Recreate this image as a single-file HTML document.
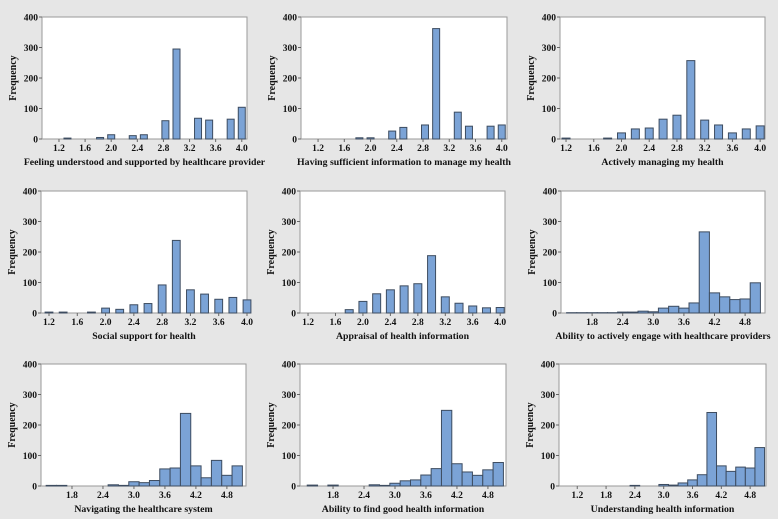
<!DOCTYPE html>
<html><head><meta charset="utf-8">
<style>
html,body{margin:0;padding:0;background:#e6e6e6;}
svg{display:block;}
text{font-family:"Liberation Serif",serif;font-weight:bold;fill:#111;}
</style></head>
<body>
<svg id="chart" width="778" height="519" viewBox="0 0 778 519" xmlns="http://www.w3.org/2000/svg">
<rect width="778" height="519" fill="#e6e6e6"/>
</svg>
<script>
const titles = ["Feeling understood and supported by healthcare provider","Having sufficient information to manage my health","Actively managing my health","Social support for health","Appraisal of health information","Ability to actively engage with healthcare providers","Navigating the healthcare system","Ability to find good health information","Understanding health information"];
const yTicks = [0,100,200,300,400];
const ticksA = ["1.2","1.6","2.0","2.4","2.8","3.2","3.6","4.0"];
const ticksB = ["1.8","2.4","3.0","3.6","4.2","4.8"];
const ticksC = ["1.2","1.8","2.4","3.0","3.6","4.2","4.8"];
const cats1 = [1.33,1.83,2.0,2.33,2.5,2.83,3.0,3.33,3.5,3.83,4.0];
const vals1 = [3,5,14,11,14,60,295,68,62,65,104];
const cats2 = [1.83,2.0,2.33,2.5,2.83,3.0,3.33,3.5,3.83,4.0];
const vals2 = [4,4,26,38,46,362,88,42,42,46];
const cats3 = [1.2,1.8,2.0,2.2,2.4,2.6,2.8,3.0,3.2,3.4,3.6,3.8,4.0];
const vals3 = [3,3,20,33,36,65,78,257,62,46,20,33,43];
const cats4 = [1.2,1.4,1.8,2.0,2.2,2.4,2.6,2.8,3.0,3.2,3.4,3.6,3.8,4.0];
const vals4 = [3,3,3,16,12,27,31,92,238,76,62,45,51,43];
const cats5 = [1.8,2.0,2.2,2.4,2.6,2.8,3.0,3.2,3.4,3.6,3.8,4.0];
const vals5 = [11,38,63,76,89,96,188,53,32,23,17,18];
const cats6 = [1.4,1.6,1.8,2.0,2.2,2.4,2.6,2.8,3.0,3.2,3.4,3.6,3.8,4.0,4.2,4.4,4.6,4.8,5.0];
const vals6 = [1,1,1,1,1,3,3,6,4,16,22,16,33,266,66,53,44,46,99];
const cats7 = [1.4,1.6,2.6,2.8,3.0,3.2,3.4,3.6,3.8,4.0,4.2,4.4,4.6,4.8,5.0];
const vals7 = [2,2,4,2,14,11,18,56,59,238,66,27,84,35,66];
const cats8 = [1.4,1.8,2.6,2.8,3.0,3.2,3.4,3.6,3.8,4.0,4.2,4.4,4.6,4.8,5.0];
const vals8 = [3,3,4,2,9,17,20,36,57,248,73,46,35,53,77];
const cats9 = [2.4,3.0,3.2,3.4,3.6,3.8,4.0,4.2,4.4,4.6,4.8,5.0];
const vals9 = [2,5,3,10,20,37,241,66,48,62,59,126];

const catsAll=[cats1,cats2,cats3,cats4,cats5,cats6,cats7,cats8,cats9];
const valsAll=[vals1,vals2,vals3,vals4,vals5,vals6,vals7,vals8,vals9];
const ticksAll=[ticksA,ticksA,ticksA,ticksA,ticksA,ticksB,ticksB,ticksB,ticksC];
// layout (pixel geometry)
const geom=[
 {l:42,r:247,t:17,b:139,x0:0.94,x1:4.08,bw:7},
 {l:301,r:507,t:17,b:139,x0:0.94,x1:4.08,bw:7},
 {l:560,r:765,t:17,b:139,x0:1.113,x1:4.07,bw:8},
 {l:41,r:247,t:191,b:313,x0:1.087,x1:4.0,bw:7.8},
 {l:300,r:505,t:191,b:313,x0:1.083,x1:4.07,bw:8},
 {l:561,r:765,t:191,b:313,x0:1.19,x1:5.19,bw:0},
 {l:41,r:246,t:364,b:486,x0:1.2,x1:5.17,bw:0},
 {l:300,r:506,t:364,b:486,x0:1.16,x1:5.15,bw:0},
 {l:559,r:766,t:364,b:486,x0:0.82,x1:5.13,bw:0}
];
const NS="http://www.w3.org/2000/svg";
const svg=document.getElementById('chart');
function mk(tag,attrs,parent){const e=document.createElementNS(NS,tag);for(const k in attrs)e.setAttribute(k,attrs[k]);(parent||svg).appendChild(e);return e;}
geom.forEach((g,i)=>{
  const grp=mk('g',{});
  
  
  const xs=v=>g.l+(v-g.x0)/(g.x1-g.x0)*(g.r-g.l);
  const ys=v=>g.b-(v/400)*(g.b-g.t);
  const area=mk('rect',{x:g.l,y:g.t,width:g.r-g.l,height:g.b-g.t,fill:'#fff',stroke:'#9a9a9a','stroke-width':1},grp);
  
  
  const cats=catsAll[i],vals=valsAll[i];
  cats.forEach((c,j)=>{
    let x,w;
    if(g.bw){w=g.bw;x=xs(c)-w/2;}else{x=xs(c-0.1);w=xs(c+0.1)-x;}
    const y=ys(vals[j]);
    const bar=mk('rect',{x:x,y:y,width:w,height:g.b-y,fill:'#7ba3d6',stroke:'#3d4c60','stroke-width':1},grp);
    
    
  });
  yTicks.forEach(t=>{
    const y=ys(t);
    mk('line',{x1:g.l-3,x2:g.l,y1:y,y2:y,stroke:'#666'},grp);
    const tx=mk('text',{x:g.l-4,y:y+3.5,'font-size':9.5,'text-anchor':'end'},grp);
    tx.textContent=t;
    
    
  });
  ticksAll[i].forEach(t=>{
    const x=xs(parseFloat(t));
    mk('line',{x1:x,x2:x,y1:g.b,y2:g.b+3,stroke:'#666'},grp);
    const tx=mk('text',{x:x,y:g.b+12,'font-size':9.5,'text-anchor':'middle'},grp);
    tx.textContent=t;
    
    
  });
  const xt=mk('text',{x:(g.l+g.r)/2,y:g.b+26,'font-size':9.8,'text-anchor':'middle'},grp);
  xt.textContent=titles[i];
  
  
  const yc=(g.t+g.b)/2, yx=g.l-26;
  const yt=mk('text',{x:yx,y:yc,'font-size':10,'text-anchor':'middle',transform:'rotate(-90 '+yx+' '+yc+')'},grp);
  yt.textContent='Frequency';
  
  
});
</script>
</body></html>
